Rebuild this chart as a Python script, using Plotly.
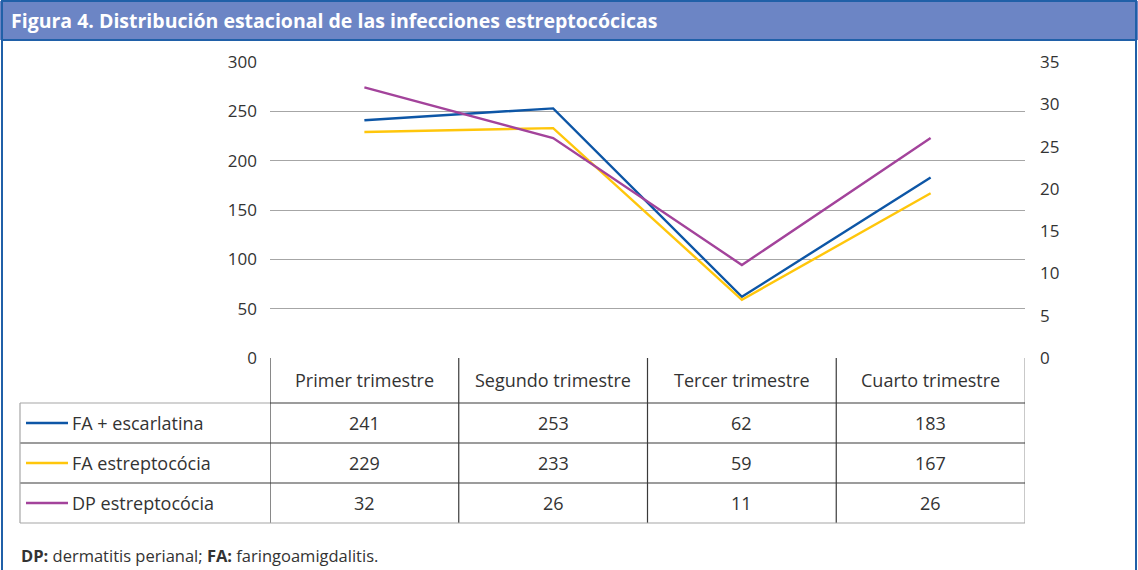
import plotly.graph_objects as go

# ---------------- data ----------------
categories = ["Primer trimestre", "Segundo trimestre", "Tercer trimestre", "Cuarto trimestre"]
series_names = ["FA + escarlatina", "FA estreptocócia", "DP estreptocócia"]
fa_escarlatina = [241, 253, 62, 183]
fa_estreptococia = [229, 233, 59, 167]
dp_estreptococia = [32, 26, 11, 26]
left_ticks = [0, 50, 100, 150, 200, 250, 300]
right_ticks = [0, 5, 10, 15, 20, 25, 30, 35]

title_text = "<b>Figura 4. Distribución estacional de las infecciones estreptocócicas</b>"
note_text = "<b>DP:</b> dermatitis perianal; <b>FA:</b> faringoamigdalitis."

# ---------------- style ----------------
W, H = 1138, 570
L, R, T, B = 270, 1025, 62, 358
colors = ["#0d56a6", "#ffc60b", "#a3439b"]
FONT = "Open Sans"
TXT = "#333333"
GRID = "#a6a6a6"
DARK = "#3a3a3a"


def px(x):
    return (x - L) / (R - L)


def py(y):
    return (B - y) / (B - T)


xs = list(range(len(categories)))
fig = go.Figure()
fig.add_trace(go.Scatter(x=xs, y=fa_escarlatina, mode="lines", name=series_names[0],
                         line=dict(color=colors[0], width=2.4)))
fig.add_trace(go.Scatter(x=xs, y=fa_estreptococia, mode="lines", name=series_names[1],
                         line=dict(color=colors[1], width=2.4)))
fig.add_trace(go.Scatter(x=xs, y=dp_estreptococia, mode="lines", name=series_names[2],
                         line=dict(color=colors[2], width=2.4), yaxis="y2"))

shapes = []
annotations = []

# frame + title bar
shapes.append(dict(type="rect", xref="paper", yref="paper", x0=px(0), x1=px(W), y0=py(1), y1=py(40),
                   fillcolor="#6c85c5", line=dict(width=0), layer="below"))
shapes.append(dict(type="line", xref="paper", yref="paper", x0=px(2), x1=px(W - 1), y0=py(40), y1=py(40),
                   line=dict(color="#2060a8", width=2)))
shapes.append(dict(type="rect", xref="paper", yref="paper", x0=px(2), x1=px(W - 2), y0=py(1), y1=py(H + 5),
                   line=dict(color="#2060a8", width=2), fillcolor="rgba(0,0,0,0)"))
annotations.append(dict(xref="paper", yref="paper", x=px(9), y=py(21), xanchor="left", yanchor="middle",
                        text=title_text, showarrow=False, font=dict(family=FONT, size=19.5, color="white")))

# table geometry
rows_y = [358, 403, 443, 483, 523]
ncol = len(categories)
for i in range(ncol + 1):
    xb = i - 0.5
    c = GRID if i == ncol else DARK
    shapes.append(dict(type="line", xref="x", yref="paper", x0=xb, x1=xb, y0=py(358), y1=py(523),
                       line=dict(color=c, width=1.2)))
shapes.append(dict(type="line", xref="paper", yref="paper", x0=px(20), x1=px(L), y0=py(403), y1=py(403),
                   line=dict(color=GRID, width=1.2)))
for yy in [403, 443, 483]:
    shapes.append(dict(type="line", xref="paper", yref="paper", x0=px(L), x1=1, y0=py(yy), y1=py(yy),
                       line=dict(color=DARK, width=1.2)))
for yy in [443, 483]:
    shapes.append(dict(type="line", xref="paper", yref="paper", x0=px(20), x1=px(L), y0=py(yy), y1=py(yy),
                       line=dict(color=DARK, width=1.2)))
shapes.append(dict(type="line", xref="paper", yref="paper", x0=px(20), x1=1, y0=py(523), y1=py(523),
                   line=dict(color=GRID, width=1.2)))
shapes.append(dict(type="line", xref="paper", yref="paper", x0=px(20), x1=px(20), y0=py(403), y1=py(523),
                   line=dict(color=GRID, width=1.2)))

TS = 18
for i, cat in enumerate(categories):
    annotations.append(dict(xref="x", yref="paper", x=i, y=py(380), text=cat, showarrow=False,
                            xanchor="center", yanchor="middle", font=dict(family=FONT, size=TS, color=TXT)))
table_vals = [fa_escarlatina, fa_estreptococia, dp_estreptococia]
for r, (name, vals) in enumerate(zip(series_names, table_vals)):
    yc = (rows_y[r + 1] + rows_y[r + 2]) / 2
    shapes.append(dict(type="line", xref="paper", yref="paper", x0=px(26), x1=px(68), y0=py(yc), y1=py(yc),
                       line=dict(color=colors[r], width=2.4)))
    annotations.append(dict(xref="paper", yref="paper", x=px(70), y=py(yc), text=name, showarrow=False,
                            xanchor="left", yanchor="middle", font=dict(family=FONT, size=TS, color=TXT)))
    for i, v in enumerate(vals):
        annotations.append(dict(xref="x", yref="paper", x=i, y=py(yc), text=str(v), showarrow=False,
                                xanchor="center", yanchor="middle", font=dict(family=FONT, size=TS, color=TXT)))

annotations.append(dict(xref="paper", yref="paper", x=px(19), y=py(555), text=note_text, showarrow=False,
                        xanchor="left", yanchor="middle", font=dict(family=FONT, size=16.5, color=TXT)))

fig.update_layout(
    width=W, height=H,
    margin=dict(l=L, r=W - R, t=T, b=H - B, pad=0),
    paper_bgcolor="white", plot_bgcolor="white",
    showlegend=False,
    xaxis=dict(range=[-0.5, ncol - 0.5], showticklabels=False, showgrid=False, zeroline=False,
               showline=False, ticks="", fixedrange=True),
    yaxis=dict(range=[0, 300], tickvals=left_ticks, showgrid=True, gridcolor=GRID, gridwidth=1.2,
               zeroline=False, showline=False, ticks="", ticklabelstandoff=12,
               tickfont=dict(family=FONT, size=17, color=TXT)),
    yaxis2=dict(range=[0, 35], tickvals=right_ticks, overlaying="y", side="right", showgrid=False,
                zeroline=False, showline=False, ticks="", ticklabelstandoff=14,
                tickfont=dict(family=FONT, size=17, color=TXT)),
    shapes=shapes, annotations=annotations,
)

fig.write_html("out.html", config={"displayModeBar": False},
               post_script="document.body.style.margin='0';document.body.style.overflow='hidden';")
